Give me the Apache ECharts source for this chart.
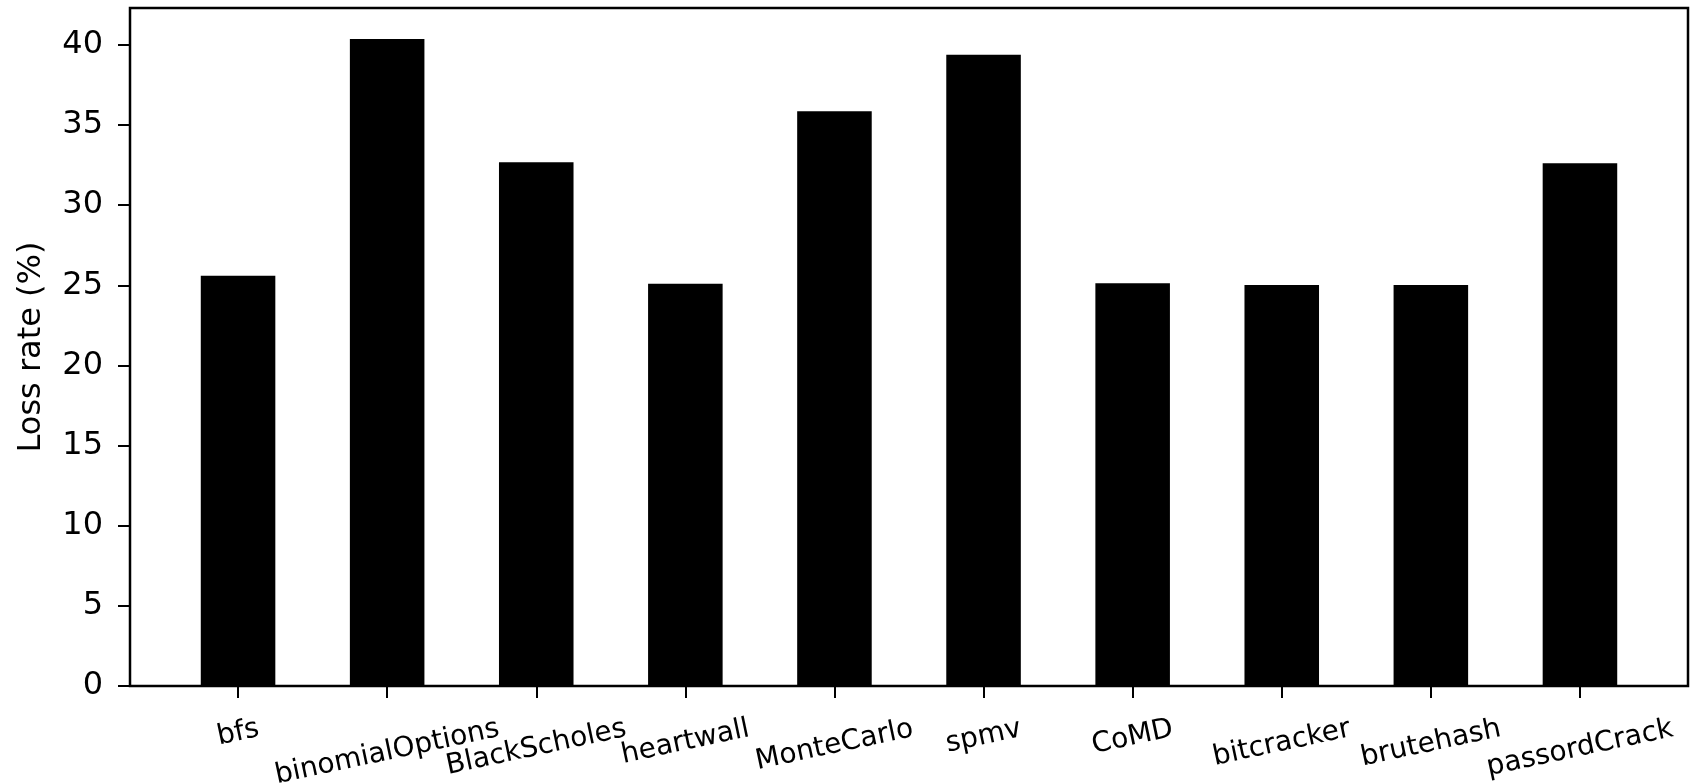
<!DOCTYPE html>
<html>
<head>
<meta charset="utf-8">
<title>Loss rate</title>
<script src="https://cdn.jsdelivr.net/npm/echarts@6/dist/echarts.min.js"></script>
<style>
html, body { margin: 0; padding: 0; background: #fff; }
#chart { width: 1691px; height: 784px; }
</style>
</head>
<body>
<div id="chart"></div>
<script type="text/javascript">
var categories = ['bfs', 'binomialOptions', 'BlackScholes', 'heartwall', 'MonteCarlo',
                  'spmv', 'CoMD', 'bitcracker', 'brutehash', 'passordCrack'];
var lossRate = [25.6, 40.37, 32.68, 25.09, 35.86, 39.38, 25.13, 25.02, 25.02, 32.62];
var yMin = 0, yMax = 42.3, yStep = 5;

var FONT = '"DejaVu Sans", "Liberation Sans", sans-serif';
var rot = 12; // degrees, x labels
var xFont = 28;

// matplotlib puts the top of the rotated label box at a fixed distance,
// so longer labels sit lower -> push each one down along the screen y
var ctx = document.createElement('canvas').getContext('2d');
ctx.font = xFont + 'px "DejaVu Sans"';
var r = rot * Math.PI / 180;
var rich = {};
categories.forEach(function (c, i) {
    var L = ctx.measureText(c).width;
    var d = (L * Math.sin(r) + xFont * Math.cos(r)) / 2;
    var b = d * Math.cos(r), a = d * Math.sin(r);
    rich['t' + i] = {
        fontSize: xFont, fontFamily: FONT, color: '#000',
        padding: [2 * b, 2 * a, 0, 0]
    };
});

var chart = echarts.init(document.getElementById('chart'));
var option = {
    animation: false,
    backgroundColor: '#fff',
    textStyle: { fontFamily: FONT, color: '#000' },
    grid: { left: 163.5, right: 36.5, top: 8, bottom: 98, containLabel: false, outerBoundsMode: 'none' },
    xAxis: {
        type: 'category',
        data: categories,
        axisLine: { show: false },
        axisTick: { show: true, alignWithLabel: true, interval: 0, length: 12, lineStyle: { color: '#000', width: 2 } },
        axisLabel: {
            interval: 0, rotate: rot, align: 'center', verticalAlign: 'middle', margin: 29,
            fontSize: xFont, color: '#000', fontFamily: FONT, hideOverlap: false,
            formatter: function (v, i) { return '{t' + i + '|' + v + '}'; },
            rich: rich
        }
    },
    yAxis: {
        type: 'value',
        min: yMin, max: yMax, interval: yStep,
        offset: 33.5,
        name: 'Loss rate (%)',
        nameLocation: 'middle',
        nameGap: 82,
        nameTextStyle: { fontSize: 32, color: '#000', fontFamily: FONT },
        axisLine: { show: false },
        axisTick: { show: true, length: 12, lineStyle: { color: '#000', width: 2 } },
        axisLabel: { fontSize: 32, color: '#000', margin: 27, fontFamily: FONT, showMaxLabel: false },
        splitLine: { show: false }
    },
    graphic: [{
        type: 'rect',
        shape: { x: 130, y: 8, width: 1558, height: 678 },
        style: { fill: 'none', stroke: '#000', lineWidth: 2.5 },
        z: 100
    }],
    series: [{
        type: 'bar',
        data: lossRate,
        barWidth: '50%',
        itemStyle: { color: '#000' }
    }]
};
chart.setOption(option);
</script>
</body>
</html>
